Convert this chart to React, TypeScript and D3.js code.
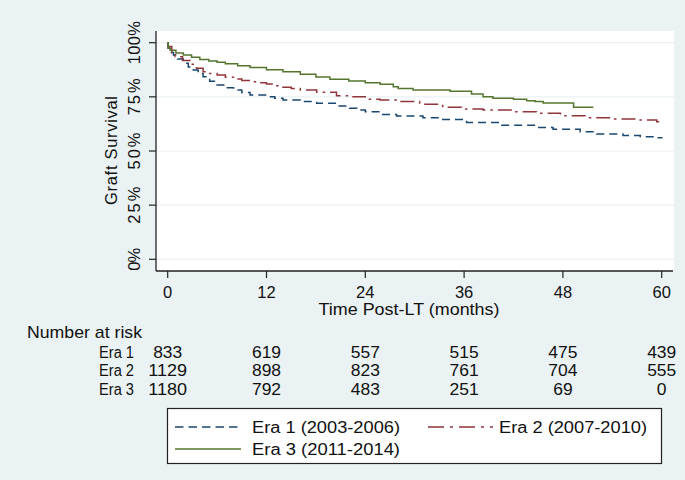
import React from "react";
import * as d3 from "d3";

const xTicks = [0, 12, 24, 36, 48, 60];
const yTicks = [0, 25, 50, 75, 100];
const yTickLabels = ["0%", "25%", "50%", "75%", "100%"];

const era1Time = [0, 0.05, 0.4, 0.7, 1.2, 1.9, 2.5, 3.1, 3.7, 4.3, 5.1, 6.0, 7.0, 8.0, 9.0, 10, 12, 13, 14, 16.1, 18.1, 20.5, 22.1, 23, 24, 25.8, 27.8, 31, 33.4, 36.3, 40.4, 44.8, 46.8, 50.1, 52.1, 55.3, 57.4, 59.2, 60.1];
const era1Surv = [100, 97.4, 95.5, 94.3, 92.5, 90.5, 88.8, 87.4, 85.8, 84.3, 82.2, 80.5, 79.2, 78.2, 77.0, 75.8, 75.1, 74.3, 73.5, 72.8, 72.0, 70.8, 69.7, 68.9, 68.1, 66.9, 66.2, 65.4, 64.6, 63.2, 61.9, 60.9, 60.0, 58.9, 57.8, 57.2, 56.6, 56.1, 56.1];

const era2Time = [0, 0.05, 0.5, 0.9, 1.8, 2.7, 3.5, 4.3, 5.1, 6.0, 7.0, 8.0, 9.0, 10, 11, 12, 13, 14, 15, 16.1, 18.1, 20.5, 22.1, 24, 25.8, 28.2, 30.6, 33.4, 35.7, 38.3, 42, 44.8, 47.7, 50.9, 54.1, 56.9, 59.4, 60.1];
const era2Surv = [100, 98.3, 95.5, 93.5, 91.8, 90.0, 88.2, 86.6, 85.8, 85.1, 84.1, 83.2, 82.6, 82.0, 81.5, 80.9, 80.1, 79.4, 78.8, 78.2, 77.1, 75.5, 75.1, 73.9, 73.5, 72.8, 71.6, 70.2, 69.4, 68.9, 68.1, 67.4, 66.3, 65.4, 64.8, 64.3, 63.5, 63.5];

const era3Time = [0, 0.07, 0.3, 1.0, 1.9, 2.9, 3.9, 5.0, 6.0, 7.0, 8.5, 10, 12, 14, 16.1, 18, 19.7, 22, 24, 25.8, 27.4, 28, 29.8, 34.3, 36.9, 38.3, 39.5, 42, 43.6, 44.6, 45.6, 49.3, 51.7];
const era3Surv = [100, 97.5, 96.5, 95.3, 94.3, 93.3, 92.3, 91.6, 91.0, 90.3, 89.4, 88.5, 87.5, 86.6, 85.4, 84.2, 83.1, 82.3, 81.5, 80.8, 79.7, 78.9, 78.2, 77.6, 76.3, 75.1, 74.3, 73.9, 73.2, 72.8, 72.2, 70.2, 70.2];

const riskGroups = ["Era 1", "Era 2", "Era 3"];
const riskEra1 = [833, 619, 557, 515, 475, 439];
const riskEra2 = [1129, 898, 823, 761, 704, 555];
const riskEra3 = [1180, 792, 483, 251, 69, 0];

const legendLabels = ["Era 1 (2003-2006)", "Era 2 (2007-2010)", "Era 3 (2011-2014)"];

const BG = "#eaf2f3";
const TXT = "#111111";
const C1 = "#1a476f";
const C2 = "#90353b";
const C3 = "#55752f";
const FONT = "'Liberation Sans', Arial, sans-serif";

export default function App() {
  const W = 685, H = 480;
  const x = d3.scaleLinear().domain([0, 60]).range([167.7, 661.7]);
  const y = d3.scaleLinear().domain([0, 100]).range([259.3, 42.7]);
  const plotL = 156, plotR = 674, plotT = 31, plotB = 271;

  const line = d3
    .line<[number, number]>()
    .x((d) => x(d[0]))
    .y((d) => y(d[1]))
    .curve(d3.curveStepAfter);

  const series = [
    { t: era1Time, s: era1Surv, c: C1, dash: "8,5" },
    { t: era2Time, s: era2Surv, c: C2, dash: "14,5,2.5,5" },
    { t: era3Time, s: era3Surv, c: C3, dash: "" },
  ];

  const risk = [riskEra1, riskEra2, riskEra3];
  const riskBase = [357.5, 376, 394.5];
  const yLabLen = (s: string) => (s.length === 2 ? 23 : s.length === 3 ? 37 : 43);

  return (
    <div style={{ position: "absolute", left: 0, top: 0 }}>
      <svg width={W} height={H} style={{ display: "block" }} fontFamily={FONT}>
        <rect x={0} y={0} width={W} height={H} fill={BG} />
        <rect x={plotL} y={plotT} width={plotR - plotL} height={plotB - plotT} fill="#ffffff" />
        {yTicks.map((v) => (
          <line key={"g" + v} x1={plotL} x2={plotR} y1={y(v)} y2={y(v)} stroke={BG} strokeWidth={1.2} />
        ))}
        {series.map((sr, i) => (
          <path
            key={"s" + i}
            d={line(sr.t.map((t, j) => [t, sr.s[j]] as [number, number])) || ""}
            fill="none"
            stroke={sr.c}
            strokeWidth={1.5}
            strokeDasharray={sr.dash}
          />
        ))}
        <line x1={plotL} x2={plotL} y1={plotT} y2={plotB} stroke="#222" strokeWidth={1.3} />
        <line x1={plotL} x2={plotR - 1} y1={plotB} y2={plotB} stroke="#222" strokeWidth={1.3} />
        {yTicks.map((v, i) => (
          <g key={"yt" + v}>
            <line x1={plotL - 7} x2={plotL} y1={y(v)} y2={y(v)} stroke="#222" strokeWidth={1.2} />
            <text
              transform={`translate(139.5,${y(v)}) rotate(-90)`}
              textAnchor="middle"
              fontSize={16.5}
              fill={TXT}
              textLength={yLabLen(yTickLabels[i])}
              lengthAdjust="spacing"
            >
              {yTickLabels[i]}
            </text>
          </g>
        ))}
        {xTicks.map((v) => (
          <g key={"xt" + v}>
            <line x1={x(v)} x2={x(v)} y1={plotB} y2={plotB + 7} stroke="#222" strokeWidth={1.2} />
            <text x={x(v)} y={297.5} textAnchor="middle" fontSize={16.5} fill={TXT}>
              {v}
            </text>
          </g>
        ))}
        <text
          transform="translate(117.3,150.5) rotate(-90)"
          textAnchor="middle"
          fontSize={16.5}
          fill={TXT}
          textLength={109}
          lengthAdjust="spacing"
        >
          Graft Survival
        </text>
        <text x={409} y={314.5} textAnchor="middle" fontSize={17} fill={TXT} textLength={181} lengthAdjust="spacingAndGlyphs">
          Time Post-LT (months)
        </text>
        <text x={27} y={338} fontSize={17} fill={TXT} textLength={115} lengthAdjust="spacingAndGlyphs">
          Number at risk
        </text>
        {riskGroups.map((g, i) => (
          <g key={"r" + i}>
            <text x={99} y={riskBase[i]} fontSize={16} fill={TXT} textLength={35} lengthAdjust="spacingAndGlyphs">
              {g}
            </text>
            {risk[i].map((n, j) => (
              <text
                key={j}
                x={x(xTicks[j])}
                y={riskBase[i]}
                textAnchor="middle"
                fontSize={16}
                fill={TXT}
                textLength={String(n).length * 9.7}
                lengthAdjust="spacingAndGlyphs"
              >
                {n}
              </text>
            ))}
          </g>
        ))}
        <rect x={167.5} y={408.5} width={494} height={55} fill="#ffffff" stroke="#222" strokeWidth={1.2} />
        <line x1={175} x2={241} y1={427} y2={427} stroke={C1} strokeWidth={1.5} strokeDasharray="8.5,5" />
        <text x={252} y={433} fontSize={16} fill={TXT} textLength={148} lengthAdjust="spacingAndGlyphs">{legendLabels[0]}</text>
        <line x1={428} x2={493} y1={427} y2={427} stroke={C2} strokeWidth={1.5} strokeDasharray="16,6,3,6" />
        <text x={499} y={433} fontSize={16} fill={TXT} textLength={148} lengthAdjust="spacingAndGlyphs">{legendLabels[1]}</text>
        <line x1={175} x2={241} y1={449} y2={449} stroke={C3} strokeWidth={1.5} />
        <text x={252} y={455} fontSize={16} fill={TXT} textLength={148} lengthAdjust="spacingAndGlyphs">{legendLabels[2]}</text>
      </svg>
    </div>
  );
}
